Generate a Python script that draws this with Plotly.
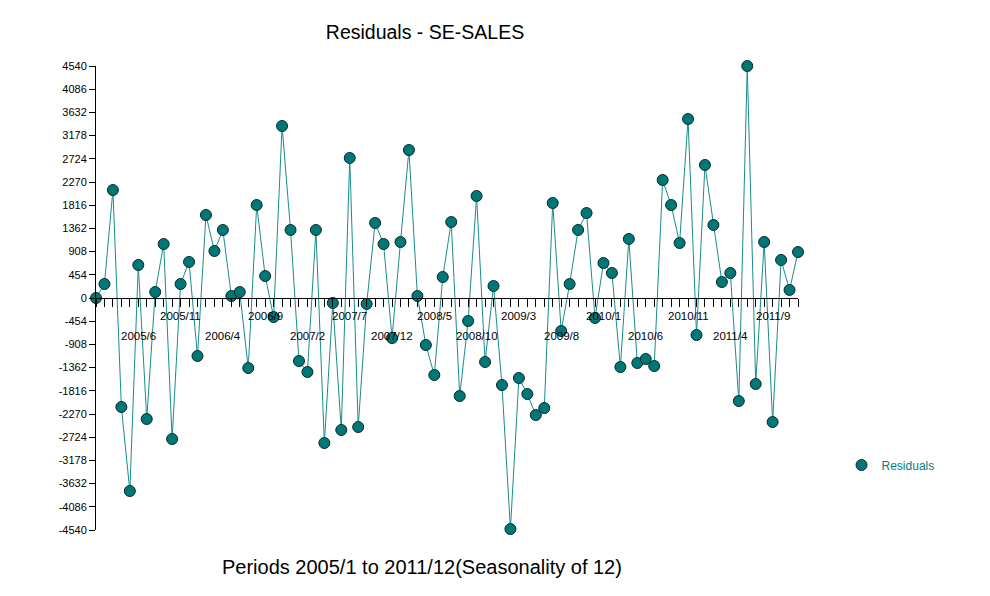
import plotly.graph_objects as go

periods = list(range(1, 85))
residuals = [
    0, 274, 2113, -2133, -3777, 646, -2368, 117, 1057, -2759,
    274, 705, -1135, 1624, 920, 1331, 39, 117, -1370, 1820,
    430, -372, 3366, 1331, -1233, -1448, 1331, -2838, -98, -2583,
    2740, -2525, -117, 1468, 1057, -783, 1096, 2896, 39, -920,
    -1507, 411, 1487, -1918, -450, 1996, -1252, 235, -1703, -4521,
    -1566, -1879, -2290, -2153, 1859, -646, 274, 1331, 1663, -391,
    685, 489, -1350, 1155, -1272, -1194, -1331, 2309, 1820, 1076,
    3503, -724, 2603, 1429, 313, 489, -2016, 4540, -1683, 1096,
    -2427, 744, 157, 900,
]
y_ticks = [-4540 + 454 * i for i in range(21)]
y_tick_text = [str(v) for v in y_ticks]
upper_labels = {11: "2005/11", 21: "2006/9", 31: "2007/7", 41: "2008/5",
                51: "2009/3", 61: "2010/1", 71: "2010/11", 81: "2011/9"}
lower_labels = {6: "2005/6", 16: "2006/4", 26: "2007/2", 36: "2007/12",
                46: "2008/10", 56: "2009/8", 66: "2010/6", 76: "2011/4"}

TEAL = "#008080"
FONT = "Liberation Sans, Arial, sans-serif"

fig = go.Figure()
fig.add_trace(go.Scatter(
    x=periods, y=residuals, mode="lines+markers", showlegend=False,
    line=dict(color="#1a8c8c", width=1),
    marker=dict(size=11, color="#007777", line=dict(color="#0a2a2a", width=1)),
    cliponaxis=False,
))
fig.add_trace(go.Scatter(
    x=[None], y=[None], mode="markers", name="Residuals",
    marker=dict(size=11, color="#007777", line=dict(color="#0a2a2a", width=1)),
))

annotations = []
for p, t in upper_labels.items():
    annotations.append(dict(x=p, y=0, xref="x", yref="y", text=t, showarrow=False,
                            yshift=-18, font=dict(size=11.5, color="black", family=FONT)))
for p, t in lower_labels.items():
    annotations.append(dict(x=p, y=0, xref="x", yref="y", text=t, showarrow=False,
                            yshift=-38, font=dict(size=11.5, color="black", family=FONT)))

fig.update_layout(
    width=990, height=596,
    margin=dict(l=96, r=192, t=66, b=66),
    paper_bgcolor="white", plot_bgcolor="white",
    font=dict(family=FONT, size=11, color="black"),
    title=dict(text="Residuals - SE-SALES", x=425 / 990, xanchor="center",
               y=1 - 32 / 596, yanchor="middle",
               font=dict(size=19.5, family=FONT, color="black")),
    xaxis=dict(range=[1, 84], showgrid=False, zeroline=False,
               anchor="free", position=0.5, showline=True, linecolor="black", linewidth=1,
               tickmode="array", tickvals=periods, ticks="outside", ticklen=8,
               tickcolor="black", tickwidth=1, showticklabels=False),
    yaxis=dict(range=[-4540, 4540], showgrid=False, zeroline=False,
               showline=True, linecolor="black", linewidth=1,
               tickmode="array", tickvals=y_ticks, ticktext=y_tick_text,
               ticks="outside", ticklen=6, tickcolor="black",
               tickfont=dict(size=11, family=FONT, color="black")),
    legend=dict(x=1.062, y=(530 - 465) / 464, xanchor="left", yanchor="middle",
                font=dict(size=12, color=TEAL, family=FONT), bgcolor="rgba(0,0,0,0)"),
    annotations=annotations + [
        dict(text="Periods 2005/1 to 2011/12(Seasonality of 12)", xref="paper", yref="paper",
             x=(422 - 96) / 702, y=-(567 - 530) / 464, xanchor="center", yanchor="middle",
             showarrow=False, font=dict(size=20, family=FONT, color="black")),
    ],
)

fig.write_html("out.html")
